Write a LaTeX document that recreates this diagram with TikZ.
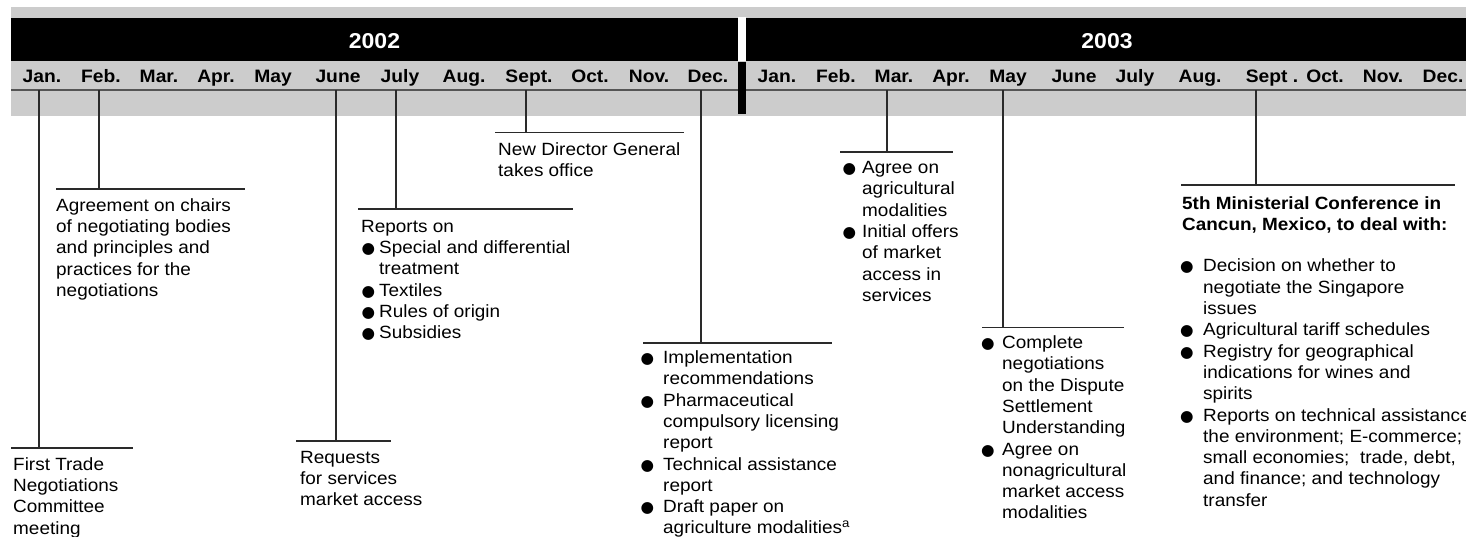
\documentclass[tikz,border=0pt]{standalone}
\usepackage{fontspec}
\setmainfont{Liberation Sans}[FakeStretch=1.07]
\newfontfamily\bulfont{DejaVu Sans}
\newcommand\bodyfont{\fontsize{17.7}{21.3}\selectfont}
\newcommand\monthfont{\fontsize{18}{20}\selectfont\bfseries}
\newcommand\yearfont{\fontsize{21.5}{24}\selectfont\bfseries}
\newcommand\fl{\rule{0pt}{14pt}}
\newcommand\bul[1]{\llap{{\bulfont\fontsize{15.5}{15}\selectfont ●}\hspace{#1}}}
\definecolor{bandgray}{HTML}{CCCCCC}
\definecolor{axisgray}{HTML}{555555}
\definecolor{linegray}{HTML}{2A2A2A}
\begin{document}
\begin{tikzpicture}[x=1pt,y=-1pt,
  month/.style={anchor=base,inner sep=0pt,font=\monthfont},
  year/.style={anchor=base,inner sep=0pt,font=\yearfont,text=white},
  txt/.style={anchor=north west,inner sep=0pt,align=left,font=\bodyfont},
  boldtxt/.style={txt,font=\bodyfont\bfseries},
  tick/.style={draw=linegray,line width=1.3pt},
  bar/.style={draw=linegray,line width=1.3pt},
  axisline/.style={draw=axisgray,line width=1.4pt}]
\useasboundingbox (0,0) rectangle (1466,537);
% bands
\fill[bandgray] (11,7) rectangle (1466,116);
\fill[black] (11,18) rectangle (738,61);
\fill[black] (746,18) rectangle (1466,61);
\fill[white] (738,17) rectangle (746,61);
\draw[axisline] (11,90) -- (1466,90);
\fill[black] (738,62) rectangle (746,114);
% years
\node[year] (y2002) at (374.5,49) {2002};
\node[year] (y2003) at (1107,49) {2003};
% months
\foreach \x/\t/\n in {42/Jan./a1,101/Feb./a2,159/Mar./a3,216/Apr./a4,273/May/a5,338/June/a6,400/July/a7,464/Aug./a8,529/Sept./a9,590/Oct./a10,649/Nov./a11,708/Dec./a12,777/Jan./b1,836/Feb./b2,894/Mar./b3,951/Apr./b4,1008/May/b5,1074/June/b6,1135/July/b7,1200/Aug./b8,1272/Sept ./b9,1325/Oct./b10,1383/Nov./b11,1443/Dec./b12}
  \node[month] (\n) at (\x,83) {\t};
% tick points on the axis
\coordinate (t1) at (39,90);
\coordinate (t2) at (99,90);
\coordinate (t3) at (336,90);
\coordinate (t4) at (396,90);
\coordinate (t5) at (526,90);
\coordinate (t6) at (701,90);
\coordinate (t7) at (887,90);
\coordinate (t8) at (1003,90);
\coordinate (t9) at (1256,90);
% bar points
\coordinate (b1) at (39,448);   \coordinate (b1l) at (11,448);   \coordinate (b1r) at (133,448);
\coordinate (b2) at (99,189);   \coordinate (b2l) at (56,189);   \coordinate (b2r) at (245,189);
\coordinate (b3) at (336,441);  \coordinate (b3l) at (296,441);  \coordinate (b3r) at (391,441);
\coordinate (b4) at (396,209);  \coordinate (b4l) at (358,209);  \coordinate (b4r) at (573,209);
\coordinate (b5) at (526,132.5);\coordinate (b5l) at (495,132.5);\coordinate (b5r) at (684,132.5);
\coordinate (b6) at (701,343);  \coordinate (b6l) at (643,343);  \coordinate (b6r) at (832,343);
\coordinate (b7) at (887,152);  \coordinate (b7l) at (840,152);  \coordinate (b7r) at (953,152);
\coordinate (b8) at (1003,327.3);\coordinate (b8l) at (982,327.3);\coordinate (b8r) at (1124,327.3);
\coordinate (b9) at (1256,185); \coordinate (b9l) at (1181,185); \coordinate (b9r) at (1455,185);
\foreach \i in {1,...,9}{
  \draw[tick] (t\i) -- (b\i);
  \draw[bar] (b\i l) -- (b\i r);
}
% texts
\node[txt] (e1) at (13,456) {\fl First Trade\\Negotiations\\Committee\\meeting};
\node[txt] (e2) at (56,197) {\fl Agreement on chairs\\of negotiating bodies\\and principles and\\practices for the\\negotiations};
\node[txt] (e3) at (300,449) {\fl Requests\\for services\\market access};
\node[txt] (e4h) at (361,218) {\fl Reports on};
\node[txt] (e4) at (379,239.3) {\fl\bul{4pt}Special and differential\\treatment\\\bul{4pt}Textiles\\\bul{4pt}Rules of origin\\\bul{4pt}Subsidies};
\node[txt] (e5) at (498,141.5) {\fl New Director General\\takes office};
\node[txt] (e6) at (663,349.3) {\fl\bul{9pt}Implementation\\recommendations\\\bul{9pt}Pharmaceutical\\compulsory licensing\\report\\\bul{9pt}Technical assistance\\report\\\bul{9pt}Draft paper on\\agriculture modalities\textsuperscript{a}};
\node[txt] (e7) at (862,159.3) {\fl\bul{6pt}Agree on\\agricultural\\modalities\\\bul{6pt}Initial offers\\of market\\access in\\services};
\node[txt] (e8) at (1002,334.3) {\fl\bul{7.5pt}Complete\\negotiations\\on the Dispute\\Settlement\\Understanding\\\bul{7.5pt}Agree on\\nonagricultural\\market access\\modalities};
\node[boldtxt] (e9h) at (1182,195.3) {\fl 5th Ministerial Conference in\\Cancun, Mexico, to deal with:};
\node[txt] (e9) at (1203,257.7) {\fl\bul{9.5pt}Decision on whether to\\negotiate the Singapore\\issues\\\bul{9.5pt}Agricultural tariff schedules\\\bul{9.5pt}Registry for geographical\\indications for wines and\\spirits\\\bul{9.5pt}Reports on technical assistance\\the environment; E-commerce;\\small economies;\ \ trade, debt,\\and finance; and technology\\transfer};
\end{tikzpicture}
\end{document}
